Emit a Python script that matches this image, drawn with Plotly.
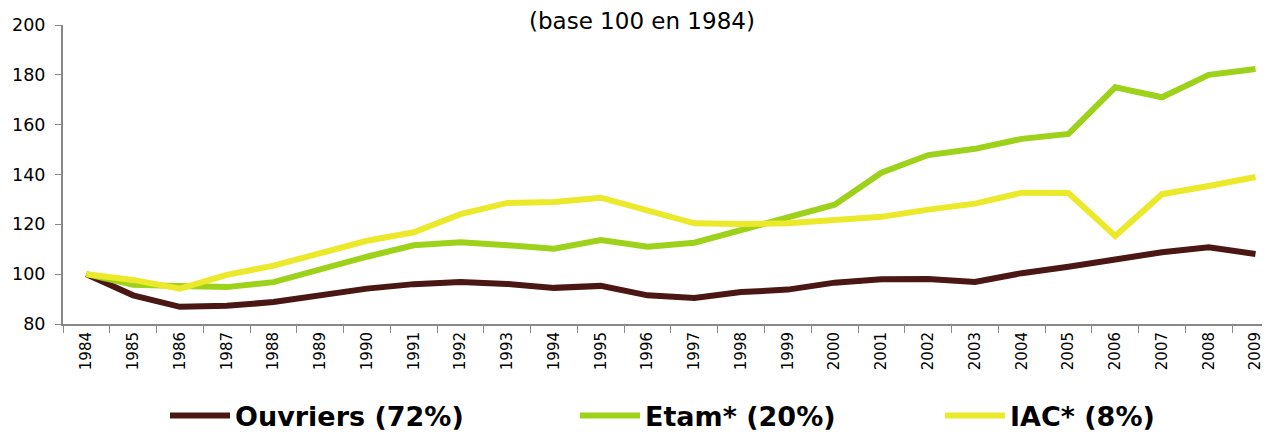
import plotly.graph_objects as go

# data (index base 100 in 1984)
years = [str(y) for y in range(1984, 2010)]

ouvriers = [100.0, 91.5, 86.9, 87.3, 88.8, 91.5, 94.2, 96.0, 96.9, 96.1, 94.5, 95.3, 91.5,
            90.4, 92.8, 93.8, 96.6, 98.0, 98.1, 96.9, 100.4, 103.0, 105.7, 108.8, 110.8, 108.1]
etam = [100.0, 95.7, 95.3, 94.8, 96.8, 102.0, 107.0, 111.6, 112.8, 111.6, 110.2, 113.7, 111.0,
        112.6, 117.5, 123.0, 127.9, 140.7, 147.8, 150.3, 154.3, 156.3, 175.0, 171.0, 180.0, 182.3]
iac = [100.0, 97.7, 94.2, 99.7, 103.4, 108.1, 113.4, 116.8, 124.1, 128.6, 129.0, 130.7, 125.4,
       120.4, 120.1, 120.4, 121.7, 123.0, 125.9, 128.3, 132.7, 132.6, 115.3, 132.1, 135.4, 139.0]

series = [
    ("Ouvriers (72%)", ouvriers, "#4a1714", "legend"),
    ("Etam* (20%)", etam, "#9dd11a", "legend2"),
    ("IAC* (8%)", iac, "#ebe92a", "legend3"),
]

fig = go.Figure()
for name, vals, col, leg in series:
    fig.add_trace(go.Scatter(x=years, y=vals, name=name, mode="lines", legend=leg,
                             line=dict(color=col, width=6)))

fig.add_annotation(text="(base 100 en 1984)", xref="paper", yref="paper",
                   x=0.48, y=1, yanchor="middle", yshift=4, showarrow=False,
                   font=dict(family="DejaVu Sans", size=23, color="#000"))

leg_style = dict(orientation="h", yref="container", xref="container", y=0.047,
                 yanchor="middle", xanchor="left", itemwidth=60,
                 font=dict(size=27, family="DejaVu Sans", weight="bold"),
                 bgcolor="rgba(0,0,0,0)")

fig.update_layout(
    width=1262, height=428,
    margin=dict(l=55, r=0, t=17, b=112),
    paper_bgcolor="white", plot_bgcolor="white",
    font=dict(family="DejaVu Sans", color="#000"),
    showlegend=True,
    legend=dict(x=157 / 1262, **leg_style),
    legend2=dict(x=567 / 1262, **leg_style),
    legend3=dict(x=932 / 1262, **leg_style),
)
fig.update_xaxes(type="category", range=[-0.5, 25.31], tickangle=-90,
                 tickson="boundaries", ticks="outside", ticklen=7, tickcolor="#888",
                 showline=True, linecolor="#888", linewidth=2, showgrid=False,
                 tickfont=dict(size=15), fixedrange=True, automargin=False)
fig.update_yaxes(range=[80, 200], dtick=20, ticks="outside", ticklen=6, tickcolor="#888",
                 showline=True, linecolor="#888", linewidth=2, showgrid=False,
                 ticklabelstandoff=6,
                 zeroline=False, tickfont=dict(size=17.5), fixedrange=True, automargin=False)

fig.write_html("out.html")
